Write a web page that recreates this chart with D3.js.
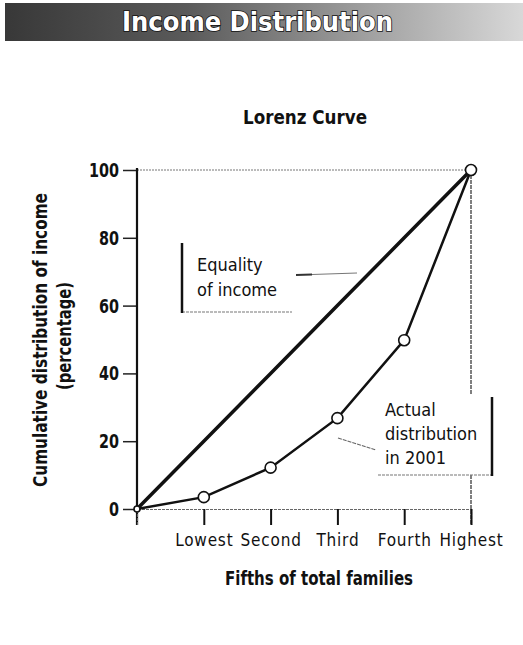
<!DOCTYPE html>
<html>
<head>
<meta charset="utf-8">
<script src="https://cdn.jsdelivr.net/npm/d3@7"></script>
<style>
  body { margin: 0; background: #fff; }
  svg { display: block; }
</style>
</head>
<body>
<div id="chart"></div>
<script>
// data
var fifths = ["Lowest", "Second", "Third", "Fourth", "Highest"];
var fifthIndex = [0, 1, 2, 3, 4, 5];
var equalityShare = [0, 20, 40, 60, 80, 100];
var actualShare = [0, 3.5, 12.2, 26.8, 49.8, 100];
var yTicks = [0, 20, 40, 60, 80, 100];

var W = 523, H = 645;
var FONT = '"DejaVu Sans Condensed", "Liberation Sans Narrow", "DejaVu Sans", sans-serif';

var svg = d3.select("#chart").append("svg")
        .attr("width", W)
        .attr("height", H)
        .style("font-family", FONT)
        .style("font-stretch", "condensed");

// header band
var defs = svg.append("defs");
var grad = defs.append("linearGradient").attr("id", "band");
grad.append("stop").attr("offset", "0%").attr("stop-color", "#383838");
grad.append("stop").attr("offset", "35%").attr("stop-color", "#5a5a5a");
grad.append("stop").attr("offset", "70%").attr("stop-color", "#a0a0a0");
grad.append("stop").attr("offset", "100%").attr("stop-color", "#d8d8d8");

svg.append("rect")
        .attr("x", 5).attr("y", 3)
        .attr("width", W - 5).attr("height", 38)
        .style("fill", "url(#band)");

svg.append("text")
        .attr("x", 122).attr("y", 31)
        .attr("textLength", 271)
        .attr("lengthAdjust", "spacingAndGlyphs")
        .style("font-weight", "bold")
        .style("font-size", "27px")
        .style("fill", "#fff")
        .style("stroke", "#111")
        .style("stroke-width", 1.6)
        .style("paint-order", "stroke")
        .text("Income Distribution");

svg.append("text")
        .attr("x", 243).attr("y", 124)
        .attr("textLength", 124)
        .attr("lengthAdjust", "spacingAndGlyphs")
        .style("font-weight", "bold")
        .style("font-size", "19px")
        .style("fill", "#111")
        .text("Lorenz Curve");

// scales
var x = d3.scaleLinear().domain([0, 5]).range([137, 471]);
var y = d3.scaleLinear().domain([0, 100]).range([509, 170]);

// frame: dotted top and right
svg.append("line")
        .attr("x1", x(0)).attr("x2", x(5))
        .attr("y1", y(100)).attr("y2", y(100))
        .style("stroke", "#777").style("stroke-width", 1)
        .style("stroke-dasharray", "2,1");
svg.append("line")
        .attr("x1", x(5)).attr("x2", x(5))
        .attr("y1", y(100)).attr("y2", y(0) + 16)
        .style("stroke", "#555").style("stroke-width", 1.5)
        .style("stroke-dasharray", "4,1");

// y axis
var yAxis = svg.append("g")
        .attr("transform", "translate(" + x(0) + ",0)")
        .call(d3.axisLeft(y).tickValues(yTicks).tickSize(14).tickPadding(4));
yAxis.select(".domain").remove();
yAxis.selectAll(".tick line").style("stroke", "#222").style("stroke-width", 1.5);
yAxis.selectAll(".tick text")
        .attr("textLength", function (d) { return String(d).length * 10; })
        .attr("lengthAdjust", "spacingAndGlyphs")
        .style("font-family", FONT)
        .style("font-weight", "bold")
        .style("font-size", "20px")
        .style("fill", "#111");
svg.append("line")
        .attr("x1", x(0)).attr("x2", x(0))
        .attr("y1", y(100) - 2).attr("y2", y(0) + 16)
        .style("stroke", "#111").style("stroke-width", 2.2);

// x axis
var xAxis = svg.append("g")
        .attr("transform", "translate(0," + y(0) + ")")
        .call(d3.axisBottom(x).tickValues([1, 2, 3, 4, 5])
                .tickSize(16).tickPadding(9)
                .tickFormat(function (d) { return fifths[d - 1]; }));
xAxis.select(".domain")
        .style("stroke", "#666").style("stroke-width", 1.2)
        .style("stroke-dasharray", "3,1");
xAxis.selectAll(".tick line").style("stroke", "#111").style("stroke-width", 2);
xAxis.selectAll(".tick text")
        .style("font-family", FONT)
        .style("font-size", "17px")
        .style("letter-spacing", "0.8px")
        .style("fill", "#111");

// axis titles
svg.append("text")
        .attr("x", 225).attr("y", 585)
        .attr("textLength", 188)
        .attr("lengthAdjust", "spacingAndGlyphs")
        .style("font-weight", "bold")
        .style("font-size", "19px")
        .style("fill", "#111")
        .text("Fifths of total families");

var yTitle = svg.append("g")
        .attr("transform", "translate(47,0) rotate(-90)")
        .style("font-weight", "bold")
        .style("font-size", "19px")
        .style("fill", "#111");
yTitle.append("text").attr("x", -487).attr("y", 0)
        .attr("textLength", 294).attr("lengthAdjust", "spacingAndGlyphs")
        .text("Cumulative distribution of income");
yTitle.append("text").attr("x", -390).attr("y", 24)
        .attr("textLength", 108).attr("lengthAdjust", "spacingAndGlyphs")
        .text("(percentage)");

// annotation boxes
var eqBox = svg.append("g").style("font-size", "18px").style("fill", "#111");
eqBox.append("line")
        .attr("x1", 182).attr("x2", 292).attr("y1", 312).attr("y2", 312)
        .style("stroke", "#777").style("stroke-width", 1.2).style("stroke-dasharray", "3,1");
eqBox.append("line")
        .attr("x1", 182).attr("x2", 182).attr("y1", 243).attr("y2", 313)
        .style("stroke", "#111").style("stroke-width", 2.5);
eqBox.append("text").attr("x", 197).attr("y", 271).text("Equality");
eqBox.append("text").attr("x", 197).attr("y", 296).text("of income");
eqBox.append("line")
        .attr("x1", 296).attr("x2", 312).attr("y1", 275).attr("y2", 274.5)
        .style("stroke", "#333").style("stroke-width", 2);
eqBox.append("line")
        .attr("x1", 312).attr("x2", 357).attr("y1", 274.5).attr("y2", 273)
        .style("stroke", "#777").style("stroke-width", 1.2);

var acBox = svg.append("g").style("font-size", "18px").style("fill", "#111");
acBox.append("rect")
        .attr("x", 378).attr("y", 394).attr("width", 114).attr("height", 81)
        .style("fill", "#fff");
acBox.append("line")
        .attr("x1", 378).attr("x2", 493).attr("y1", 475).attr("y2", 475)
        .style("stroke", "#777").style("stroke-width", 1.2).style("stroke-dasharray", "3,1");
acBox.append("line")
        .attr("x1", 492).attr("x2", 492).attr("y1", 397).attr("y2", 476)
        .style("stroke", "#111").style("stroke-width", 2.5);
["Actual", "distribution", "in 2001"].forEach(function (t, i) {
    acBox.append("text").attr("x", 385).attr("y", 416 + i * 24).text(t);
});
acBox.append("line")
        .attr("x1", 338).attr("x2", 376).attr("y1", 438).attr("y2", 450)
        .style("stroke", "#666").style("stroke-width", 1.2).style("stroke-dasharray", "4,1");

// curves
var line = d3.line()
        .x(function (d, i) { return x(fifthIndex[i]); })
        .y(function (d) { return y(d); });

svg.append("path")
        .datum(equalityShare)
        .attr("d", line)
        .style("fill", "none")
        .style("stroke", "#111")
        .style("stroke-width", 3.5);

svg.append("path")
        .datum(actualShare)
        .attr("d", line)
        .style("fill", "none")
        .style("stroke", "#111")
        .style("stroke-width", 2.5);

svg.selectAll("circle.pt")
        .data(actualShare)
        .enter().append("circle")
        .attr("class", "pt")
        .attr("cx", function (d, i) { return x(fifthIndex[i]); })
        .attr("cy", function (d) { return y(d); })
        .attr("r", function (d, i) { return i === 0 ? 3 : 5.5; })
        .style("fill", "#fff")
        .style("stroke", "#111")
        .style("stroke-width", 1.6);
</script>
</body>
</html>
